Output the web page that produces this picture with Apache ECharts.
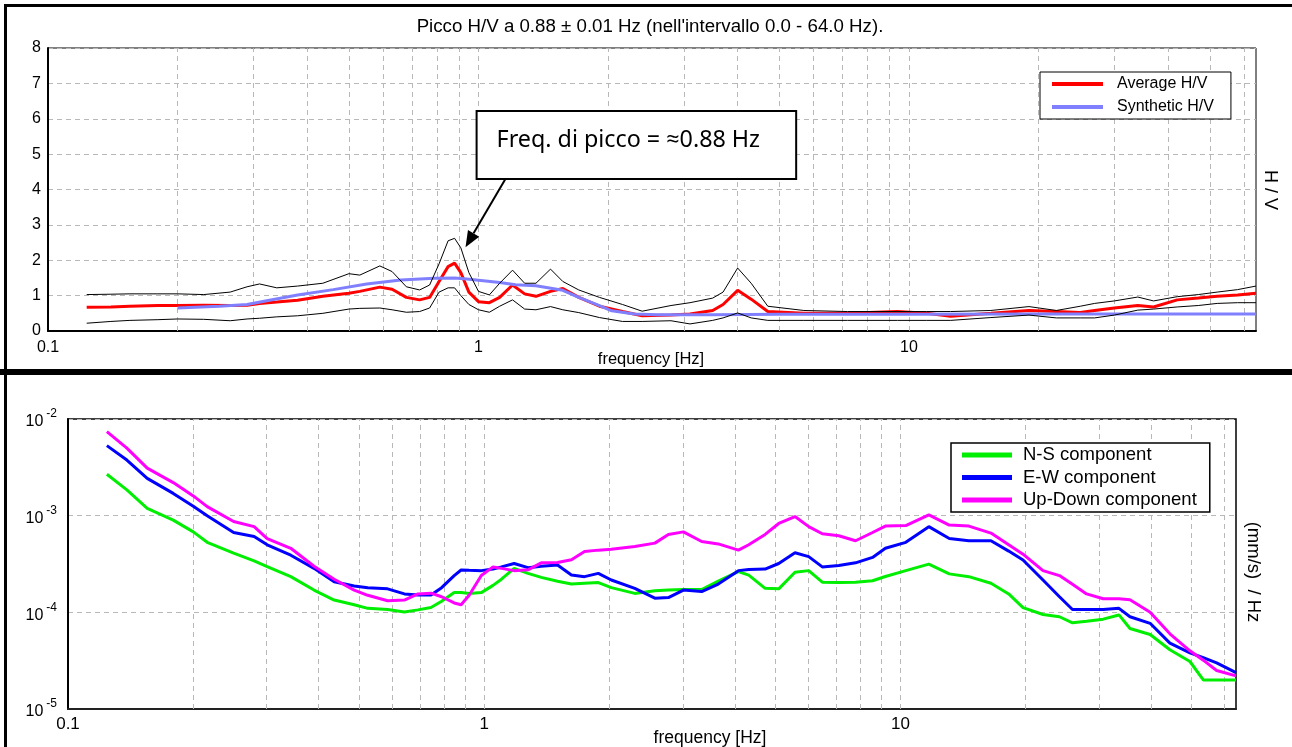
<!DOCTYPE html>
<html>
<head>
<meta charset="utf-8">
<script src="https://cdn.jsdelivr.net/npm/echarts@6.0.0/dist/echarts.min.js"></script>
<style>
  html, body { margin: 0; padding: 0; background: #fff; }
  #chart { width: 1292px; height: 747px; }
</style>
</head>
<body>
<div id="chart"></div>
<script>
// ---- H/V spectral ratio (upper panel) ----
const hvFreq = [0.123, 0.14, 0.155, 0.18, 0.2, 0.23, 0.265, 0.29, 0.31, 0.34, 0.38, 0.435, 0.5, 0.53, 0.59, 0.63,
  0.68, 0.73, 0.77, 0.81, 0.85, 0.88, 0.91, 0.95, 1.0, 1.06, 1.12, 1.2, 1.28, 1.36, 1.47, 1.57, 1.71, 1.91, 2.16,
  2.4, 2.8, 3.1, 3.5, 3.7, 4.0, 4.3, 4.7, 5.7, 7.2, 9.4, 11, 12.5, 15.5, 19, 22, 25, 27, 30, 34, 37, 42, 47, 52, 58, 64];
const hvAverage = [0.67, 0.68, 0.70, 0.72, 0.72, 0.73, 0.72, 0.73, 0.78, 0.82, 0.87, 0.98, 1.07, 1.12, 1.24, 1.18,
  0.95, 0.88, 0.95, 1.40, 1.82, 1.92, 1.65, 1.10, 0.83, 0.80, 0.95, 1.30, 1.05, 0.98, 1.12, 1.20, 0.95, 0.70, 0.55,
  0.43, 0.45, 0.48, 0.58, 0.75, 1.15, 0.90, 0.55, 0.50, 0.50, 0.55, 0.50, 0.42, 0.50, 0.58, 0.55, 0.52, 0.58, 0.65,
  0.72, 0.68, 0.88, 0.93, 0.98, 1.02, 1.07];
const hvUpper = [1.03, 1.04, 1.05, 1.05, 1.05, 1.03, 1.10, 1.25, 1.33, 1.22, 1.27, 1.35, 1.62, 1.58, 1.84, 1.68,
  1.25, 1.16, 1.30, 1.90, 2.55, 2.62, 2.35, 1.65, 1.12, 1.02, 1.35, 1.72, 1.35, 1.35, 1.75, 1.40, 1.16, 0.95, 0.75,
  0.56, 0.72, 0.80, 0.93, 1.10, 1.78, 1.35, 0.70, 0.58, 0.55, 0.55, 0.55, 0.55, 0.58, 0.69, 0.58, 0.70, 0.78, 0.85,
  0.96, 0.85, 0.97, 1.03, 1.10, 1.17, 1.27];
const hvLower = [0.22, 0.27, 0.30, 0.32, 0.34, 0.33, 0.29, 0.34, 0.36, 0.40, 0.43, 0.50, 0.62, 0.64, 0.65, 0.60,
  0.53, 0.55, 0.65, 1.10, 1.22, 1.22, 1.00, 0.75, 0.60, 0.53, 0.70, 0.88, 0.62, 0.60, 0.69, 0.60, 0.52, 0.38, 0.27,
  0.27, 0.29, 0.20, 0.30, 0.37, 0.51, 0.37, 0.30, 0.30, 0.30, 0.30, 0.30, 0.30, 0.38, 0.45, 0.37, 0.37, 0.37, 0.45,
  0.59, 0.62, 0.68, 0.72, 0.78, 0.80, 0.80];
const synFreq = [0.2, 0.25, 0.29, 0.32, 0.38, 0.46, 0.55, 0.66, 0.79, 0.88, 0.94, 1.12, 1.22, 1.36, 1.57, 1.71,
  1.91, 2.04, 2.3, 2.6, 3.5, 5, 10, 20, 40, 64];
const synHV = [0.65, 0.70, 0.75, 0.85, 1.02, 1.17, 1.33, 1.44, 1.49, 1.50, 1.47, 1.37, 1.31, 1.28, 1.15, 0.95,
  0.72, 0.57, 0.48, 0.46, 0.46, 0.47, 0.47, 0.48, 0.48, 0.48];
const hvTicks = [0, 1, 2, 3, 4, 5, 6, 7, 8];

// ---- single-component spectra (lower panel) ----
const specFreq = [0.124, 0.1385, 0.155, 0.179, 0.2, 0.216, 0.25, 0.28, 0.301, 0.343, 0.39, 0.436, 0.487, 0.525,
  0.586, 0.643, 0.693, 0.745, 0.79, 0.847, 0.88, 0.92, 0.984, 1.05, 1.1, 1.18, 1.274, 1.371, 1.5, 1.62, 1.742,
  1.88, 2.02, 2.3, 2.57, 2.77, 3.01, 3.33, 3.65, 4.08, 4.32, 4.73, 5.1, 5.58, 6.02, 6.49, 7.11, 7.8, 8.57, 9.2,
  10.3, 11.7, 13.1, 14.6, 16.5, 18.2, 19.7, 22, 24.1, 25.9, 28, 30.7, 33.5, 35.6, 39.8, 44.4, 49.6, 53.4, 57.5, 64];
const specNS = [2.68e-3, 1.85e-3, 1.19e-3, 9.0e-4, 6.8e-4, 5.3e-4, 4.1e-4, 3.4e-4, 2.97e-4, 2.34e-4, 1.7e-4,
  1.34e-4, 1.2e-4, 1.1e-4, 1.07e-4, 1.01e-4, 1.06e-4, 1.12e-4, 1.3e-4, 1.6e-4, 1.6e-4, 1.57e-4, 1.6e-4, 1.9e-4,
  2.2e-4, 2.85e-4, 2.53e-4, 2.3e-4, 2.1e-4, 1.96e-4, 2.0e-4, 2.03e-4, 1.8e-4, 1.57e-4, 1.67e-4, 1.7e-4, 1.72e-4,
  1.72e-4, 2.1e-4, 2.64e-4, 2.43e-4, 1.77e-4, 1.75e-4, 2.6e-4, 2.7e-4, 2.05e-4, 2.03e-4, 2.05e-4, 2.12e-4, 2.35e-4,
  2.7e-4, 3.15e-4, 2.5e-4, 2.34e-4, 2.0e-4, 1.55e-4, 1.12e-4, 9.5e-5, 9.0e-5, 7.8e-5, 8.1e-5, 8.5e-5, 9.4e-5,
  6.8e-5, 5.9e-5, 4.1e-5, 3.1e-5, 2.0e-5, 2.0e-5, 2.0e-5];
const specEW = [5.3e-3, 3.76e-3, 2.43e-3, 1.7e-3, 1.25e-3, 1.0e-3, 6.7e-4, 6.1e-4, 5.0e-4, 3.9e-4, 2.85e-4,
  2.07e-4, 1.87e-4, 1.8e-4, 1.75e-4, 1.55e-4, 1.51e-4, 1.51e-4, 1.8e-4, 2.4e-4, 2.74e-4, 2.72e-4, 2.7e-4, 2.8e-4,
  2.95e-4, 3.2e-4, 2.9e-4, 3.0e-4, 3.09e-4, 2.43e-4, 2.34e-4, 2.53e-4, 2.16e-4, 1.77e-4, 1.4e-4, 1.42e-4, 1.7e-4,
  1.64e-4, 1.96e-4, 2.7e-4, 2.78e-4, 2.8e-4, 3.2e-4, 4.14e-4, 3.77e-4, 2.95e-4, 3.05e-4, 3.25e-4, 3.7e-4, 4.6e-4,
  5.3e-4, 7.7e-4, 5.8e-4, 5.5e-4, 5.5e-4, 4.3e-4, 3.48e-4, 2.16e-4, 1.45e-4, 1.07e-4, 1.07e-4, 1.07e-4, 1.1e-4,
  9.0e-5, 7.7e-5, 4.8e-5, 3.8e-5, 3.4e-5, 3.0e-5, 2.38e-5];
const specUD = [7.4e-3, 5.0e-3, 3.1e-3, 2.2e-3, 1.6e-3, 1.24e-3, 8.7e-4, 7.7e-4, 5.8e-4, 4.6e-4, 3.0e-4,
  2.2e-4, 1.7e-4, 1.5e-4, 1.32e-4, 1.34e-4, 1.55e-4, 1.58e-4, 1.45e-4, 1.25e-4, 1.2e-4, 1.5e-4, 2.4e-4, 2.95e-4,
  2.85e-4, 2.7e-4, 2.75e-4, 3.25e-4, 3.27e-4, 3.5e-4, 4.25e-4, 4.4e-4, 4.5e-4, 4.8e-4, 5.2e-4, 6.4e-4, 6.8e-4,
  5.4e-4, 5.1e-4, 4.4e-4, 5.0e-4, 6.4e-4, 8.3e-4, 9.8e-4, 7.7e-4, 6.5e-4, 6.2e-4, 5.5e-4, 6.7e-4, 7.8e-4,
  7.9e-4, 1.02e-3, 8.0e-4, 7.8e-4, 6.6e-4, 5.0e-4, 4.0e-4, 2.7e-4, 2.4e-4, 1.95e-4, 1.55e-4, 1.38e-4, 1.38e-4,
  1.35e-4, 1.0e-4, 6.0e-5, 4.0e-5, 3.2e-5, 2.5e-5, 2.2e-5];

// vertical grid lines at every 1..9 multiple of each decade
const freqGrid = [0.2, 0.3, 0.4, 0.5, 0.6, 0.7, 0.8, 0.9, 1, 2, 3, 4, 5, 6, 7, 8, 9, 10, 20, 30, 40, 50, 60];
const peakFreq = 0.88;

const FONT = '"Liberation Sans", Arial, sans-serif';
const dash = { color: '#b8b8b8', type: [5, 4], width: 1 };

const pairs = (xs, ys) => xs.map((x, i) => [x, ys[i]]);

function decadeLabel(v) {
  const e = Math.log10(v);
  if (Math.abs(e - Math.round(e)) > 1e-6) return '';
  const p = Math.round(e);
  return p < 0 ? Math.pow(10, p).toFixed(-p) : String(Math.pow(10, p));
}

function curve(name, idx, data, color, width, z) {
  return {
    name, type: 'line', xAxisIndex: idx, yAxisIndex: idx, data,
    symbol: 'none', showSymbol: false, silent: true, animation: false, z,
    lineStyle: { color, width }, itemStyle: { color }
  };
}

function gridLines(idx, anchor) {
  return {
    type: 'line', xAxisIndex: idx, yAxisIndex: idx, data: [anchor],
    symbol: 'none', silent: true, animation: false, z: 1, lineStyle: { opacity: 0 },
    markLine: {
      z: 1, silent: true, animation: false, symbol: ['none', 'none'], label: { show: false },
      lineStyle: dash, emphasis: { disabled: true },
      data: freqGrid.map(f => ({ xAxis: f }))
    }
  };
}

const chart = echarts.init(document.getElementById('chart'), null, { renderer: 'canvas' });

chart.setOption({
  animation: false,
  backgroundColor: '#fff',
  textStyle: { fontFamily: FONT },
  grid: [
    { left: 48, top: 48, width: 1208, height: 283, show: true, borderColor: '#000', borderWidth: 1, backgroundColor: '#fff' },
    { left: 68, top: 419, width: 1168, height: 290, show: true, borderColor: '#000', borderWidth: 1.5, backgroundColor: '#fff' }
  ],
  xAxis: [
    {
      type: 'log', logBase: 10, gridIndex: 0, min: 0.1, max: 64,
      axisLine: { show: true, lineStyle: { color: '#000', width: 2 } },
      axisTick: { show: false }, splitLine: { show: false },
      axisLabel: { formatter: decadeLabel, fontSize: 16, color: '#000', margin: 9, fontFamily: FONT }
    },
    {
      type: 'log', logBase: 10, gridIndex: 1, min: 0.1, max: 64,
      axisLine: { show: true, lineStyle: { color: '#222', width: 2 } },
      axisTick: { show: false }, splitLine: { show: false },
      axisLabel: { formatter: decadeLabel, fontSize: 17, color: '#000', margin: 7, fontFamily: FONT }
    }
  ],
  yAxis: [
    {
      type: 'value', gridIndex: 0, min: hvTicks[0], max: hvTicks[hvTicks.length - 1], interval: 1,
      axisLine: { show: true, onZero: false, lineStyle: { color: '#000', width: 2 } },
      axisTick: { show: false },
      splitLine: { show: true, lineStyle: dash },
      axisLabel: { fontSize: 16, color: '#000', margin: 7, fontFamily: FONT }
    },
    {
      type: 'log', logBase: 10, gridIndex: 1, min: 1e-5, max: 1e-2,
      axisLine: { show: true, onZero: false, lineStyle: { color: '#000', width: 2 } },
      axisTick: { show: false },
      splitLine: { show: true, lineStyle: dash },
      axisLabel: {
        margin: 11,
        formatter: v => '{b|10}{s|' + Math.round(Math.log10(v)) + '}',
        rich: {
          b: { fontSize: 16, fontFamily: FONT, color: '#000', lineHeight: 22, verticalAlign: 'bottom' },
          s: { fontSize: 12, fontFamily: FONT, color: '#000', lineHeight: 22, verticalAlign: 'top', padding: [0, 0, 0, 3] }
        }
      }
    }
  ],
  legend: [
    {
      z: 20,
      data: ['Average H/V', 'Synthetic H/V'], orient: 'vertical', left: 1040, top: 72,
      padding: [3, 17, 3, 12], itemWidth: 51, itemHeight: 4, itemGap: 5, icon: 'rect',
      borderColor: '#000', borderWidth: 1, borderRadius: 0, backgroundColor: '#fff', selectedMode: false,
      textStyle: { fontSize: 16, fontFamily: FONT, color: '#000', lineHeight: 18, padding: [0, 0, 0, 9] }
    },
    {
      z: 20,
      data: ['N-S component', 'E-W component', 'Up-Down component'], orient: 'vertical', left: 951, top: 443,
      padding: [2, 13, 2, 11], itemWidth: 50, itemHeight: 5, itemGap: 2.5, icon: 'rect',
      borderColor: '#000', borderWidth: 1.5, borderRadius: 0, backgroundColor: '#fff', selectedMode: false,
      textStyle: { fontSize: 18.5, fontFamily: FONT, color: '#000', lineHeight: 20, padding: [0, 0, 0, 6] }
    }
  ],
  series: [
    gridLines(0, [1, 0]),
    curve('Average H/V', 0, pairs(hvFreq, hvAverage), '#ff0000', 3, 3),
    curve('Synthetic H/V', 0, pairs(synFreq, synHV), '#8080ff', 3, 4),
    curve('H/V + std', 0, pairs(hvFreq, hvUpper), '#000000', 1, 5),
    curve('H/V - std', 0, pairs(hvFreq, hvLower), '#000000', 1, 5),
    gridLines(1, [1, 1e-5]),
    curve('N-S component', 1, pairs(specFreq, specNS), '#00ee00', 3, 3),
    curve('E-W component', 1, pairs(specFreq, specEW), '#0000ff', 3, 4),
    curve('Up-Down component', 1, pairs(specFreq, specUD), '#ff00ff', 3, 5)
  ]
});

// annotation box and arrow, anchored in data space of the upper panel
const toPx = p => chart.convertToPixel({ xAxisIndex: 0, yAxisIndex: 0 }, p);
const boxA = toPx([0.99, 6.22]);
const boxB = toPx([5.47, 4.3]);
const tail = toPx([1.155, 4.3]);
const tip = toPx([0.933, 2.37]);
const dx = tip[0] - tail[0], dy = tip[1] - tail[1];
const len = Math.hypot(dx, dy), ux = dx / len, uy = dy / len;
const headLen = 16, headW = 6.5;
const base = [tip[0] - ux * headLen, tip[1] - uy * headLen];
const headL = [base[0] + uy * headW, base[1] - ux * headW];
const headR = [base[0] - uy * headW, base[1] + ux * headW];

chart.setOption({
  graphic: [
    // panel frames
    { type: 'rect', shape: { x: 4, y: 4, width: 1288, height: 3 }, style: { fill: '#000' }, silent: true },
    { type: 'rect', shape: { x: 4, y: 4, width: 3, height: 368 }, style: { fill: '#000' }, silent: true },
    { type: 'rect', shape: { x: 0, y: 369, width: 1292, height: 6 }, style: { fill: '#000' }, silent: true },
    { type: 'rect', shape: { x: 4, y: 369, width: 3, height: 378 }, style: { fill: '#000' }, silent: true },
    // title
    {
      type: 'text', x: 650, y: 27, silent: true,
      style: {
        text: "Picco H/V a " + peakFreq.toFixed(2) + " \u00b1 0.01 Hz (nell'intervallo 0.0 - 64.0 Hz).",
        font: '18.7px ' + FONT, fill: '#000', textAlign: 'center', textVerticalAlign: 'middle'
      }
    },
    // axis titles
    {
      type: 'text', x: 651, y: 359, silent: true,
      style: { text: 'frequency [Hz]', font: '16.5px ' + FONT, fill: '#000', textAlign: 'center', textVerticalAlign: 'middle' }
    },
    {
      type: 'text', x: 1270, y: 190, rotation: -Math.PI / 2, silent: true,
      style: { text: 'H / V', font: '18px ' + FONT, fill: '#000', textAlign: 'center', textVerticalAlign: 'middle' }
    },
    {
      type: 'text', x: 1253, y: 572, rotation: -Math.PI / 2, silent: true,
      style: { text: '(mm/s)  / Hz', font: '18.5px ' + FONT, fill: '#000', textAlign: 'center', textVerticalAlign: 'middle' }
    },
    {
      type: 'text', x: 710, y: 738, silent: true,
      style: { text: 'frequency [Hz]', font: '17.5px ' + FONT, fill: '#000', textAlign: 'center', textVerticalAlign: 'middle' }
    },
    // peak annotation
    {
      type: 'rect', z: 100, silent: true,
      shape: { x: boxA[0], y: boxA[1], width: boxB[0] - boxA[0], height: boxB[1] - boxA[1] },
      style: { fill: '#fff', stroke: '#000', lineWidth: 2 }
    },
    {
      type: 'text', z: 101, x: boxA[0] + 20, y: boxA[1] + 29, silent: true,
      style: {
        text: 'Freq. di picco = \u2248' + peakFreq.toFixed(2) + ' Hz',
        font: '23.3px "Noto Sans", "Open Sans", sans-serif', fill: '#000', textVerticalAlign: 'middle'
      }
    },
    {
      type: 'line', z: 100, silent: true,
      shape: { x1: tail[0], y1: tail[1], x2: base[0], y2: base[1] },
      style: { stroke: '#000', lineWidth: 2 }
    },
    {
      type: 'polygon', z: 100, silent: true,
      shape: { points: [tip, headL, headR] },
      style: { fill: '#000' }
    }
  ]
});
</script>
</body>
</html>
